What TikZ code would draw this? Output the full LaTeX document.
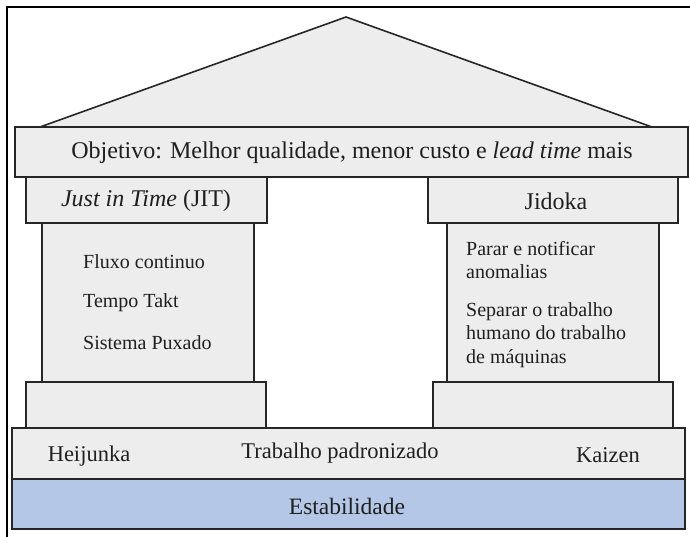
\documentclass[tikz,border=0pt]{standalone}
\usepackage{fontspec}
\setmainfont{Liberation Serif}
\begin{document}
\begin{tikzpicture}[x=1pt,y=-1pt,
  lineclr/.style={draw=black!85, line width=1.6pt},
  slab/.style={lineclr, fill=black!7, rectangle, inner sep=0pt, anchor=center},
  base/.style={lineclr, fill=blue!28!cyan!12!black!4, rectangle, inner sep=0pt, anchor=center},
  label/.style={text=black!88, inner sep=0pt, font=\fontsize{#1}{#1}\selectfont},
  label/.default=20,
  listtxt/.style={text=black!88, inner sep=0pt, anchor=west, align=left,
    font=\fontsize{20}{23.5}\selectfont}
]
\definecolor{stonegray}{HTML}{EDEDED}
\definecolor{footblue}{HTML}{B4C7E7}
\useasboundingbox (0,0) rectangle (690,536);

% outer frame
\draw[line width=2pt, black] (7,545) -- (7,7) -- (700,7);

% roof
\coordinate (roofL) at (40,127);
\coordinate (roofT) at (346,17);
\coordinate (roofR) at (652,127);
\filldraw[lineclr, fill=stonegray] (roofL) -- (roofT) -- (roofR) -- cycle;

% columns (drawn first so the capitals overlap them)
\node[slab, fill=stonegray, minimum width=212pt, minimum height=159pt] (colL) at (148,302.5) {};
\node[slab, fill=stonegray, minimum width=212pt, minimum height=159pt] (colR) at (553,302.5) {};

% architrave
\node[slab, fill=stonegray, minimum width=673pt, minimum height=50pt] (goal) at (351.5,152) {};
\node[label=24] (goaltxt) at (352,153)
  {Objetivo: Melhor qualidade, menor custo e \textit{lead time} mais};

% capitals
\node[slab, fill=stonegray, minimum width=241pt, minimum height=46pt] (jit) at (146.5,200) {};
\node[label=24] (jittxt) at (146,201) {\textit{Just in Time} (JIT)};
\node[slab, fill=stonegray, minimum width=250pt, minimum height=46pt] (jid) at (553,200) {};
\node[label=24] (jidtxt) at (556,201) {Jidoka};

% column contents
\node[listtxt] (flux) at (83,262) {Fluxo continuo};
\node[listtxt] (takt) at (83,303) {Tempo Takt};
\node[listtxt] (pull) at (83,343) {Sistema Puxado};
\node[listtxt] (stop) at (466,260) {Parar e notificar\\anomalias};
\node[listtxt] (sep) at (466,335) {Separar o trabalho\\humano do trabalho\\de máquinas};

% column bases
\node[slab, fill=stonegray, minimum width=240pt, minimum height=46pt] (baseL) at (146,405) {};
\node[slab, fill=stonegray, minimum width=240pt, minimum height=46pt] (baseR) at (553,405) {};

% foundation
\node[slab, fill=stonegray, minimum width=673pt, minimum height=51pt] (found) at (348.5,453.5) {};
\node[label=22.5] (heij) at (89,456) {Heijunka};
\node[label=22.5] (std) at (340,453) {Trabalho padronizado};
\node[label=22.5] (kaiz) at (608,455) {Kaizen};
\node[slab, fill=footblue, minimum width=673pt, minimum height=50pt] (stab) at (348.5,504) {};
\node[label=23.5] (stabtxt) at (347,506) {Estabilidade};
\end{tikzpicture}
\end{document}
